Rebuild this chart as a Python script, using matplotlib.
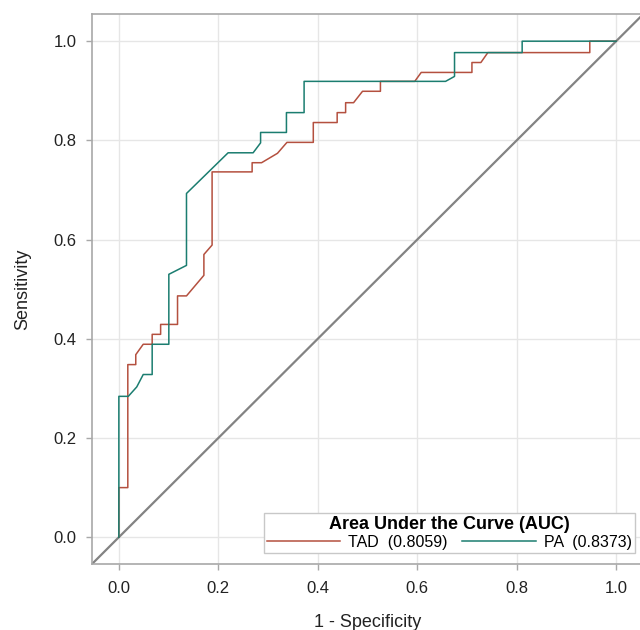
import numpy as np
import matplotlib
matplotlib.use('Agg')
import matplotlib.pyplot as plt
from matplotlib.lines import Line2D

# ROC curve points
tad_fpr = [0, 0, 0.018, 0.018, 0.034, 0.034, 0.049, 0.067, 0.067, 0.084, 0.084,
           0.118, 0.118, 0.136, 0.171, 0.171, 0.1875, 0.1875, 0.268, 0.268, 0.287,
           0.319, 0.338, 0.391, 0.391, 0.439, 0.439, 0.456, 0.456, 0.472, 0.490,
           0.526, 0.526, 0.595, 0.608, 0.710, 0.710, 0.728, 0.742, 0.947, 0.947, 1.0]
tad_tpr = [0, 0.1, 0.1, 0.348, 0.348, 0.368, 0.389, 0.389, 0.409, 0.409, 0.429,
           0.429, 0.4865, 0.4865, 0.528, 0.570, 0.589, 0.7365, 0.7365, 0.755, 0.755,
           0.774, 0.796, 0.796, 0.836, 0.836, 0.856, 0.856, 0.876, 0.876, 0.899,
           0.899, 0.919, 0.919, 0.937, 0.937, 0.957, 0.957, 0.977, 0.977, 1.0, 1.0]

pa_fpr = [0, 0, 0.019, 0.036, 0.049, 0.067, 0.067, 0.1005, 0.1005, 0.136, 0.136,
          0.2197, 0.270, 0.285, 0.285, 0.337, 0.337, 0.3725, 0.3725, 0.657, 0.675,
          0.675, 0.811, 0.811, 1.0]
pa_tpr = [0, 0.284, 0.284, 0.303, 0.328, 0.328, 0.389, 0.389, 0.530, 0.548, 0.693,
          0.775, 0.775, 0.795, 0.816, 0.816, 0.856, 0.856, 0.919, 0.919, 0.929,
          0.977, 0.977, 1.0, 1.0]

auc_labels = ['TAD  (0.8059)', 'PA  (0.8373)']
ticks = [0.0, 0.2, 0.4, 0.6, 0.8, 1.0]

red = '#B4503F'
teal = '#1B7D70'

plt.rcParams['font.family'] = ['Liberation Sans', 'DejaVu Sans']

fig = plt.figure(figsize=(6.4, 6.3), dpi=100)
ax = fig.add_axes([92 / 640, 1 - 564 / 630, 551 / 640, 549.6 / 630])

lo, hi = -0.054, 1.054
ax.plot([lo, hi], [lo, hi], color='#838383', lw=1.6, zorder=2)
ax.plot(tad_fpr, tad_tpr, color=red, lw=1.1, zorder=3)
ax.plot(pa_fpr, pa_tpr, color=teal, lw=1.1, zorder=4)

ax.set_xlim(lo, hi)
ax.set_ylim(lo, hi)
ax.set_xticks(ticks)
ax.set_yticks(ticks)
ax.set_xticklabels([f'{t:.1f}' for t in ticks])
ax.set_yticklabels([f'{t:.1f}' for t in ticks])
ax.grid(True, color='#e6e6e6', lw=1)
ax.set_axisbelow(True)
for s in ax.spines.values():
    s.set_color('#a8a8a8')
    s.set_linewidth(1.2)
ax.spines['right'].set_visible(False)
ax.tick_params(axis='both', colors='#a8a8a8', labelcolor='#222222',
               labelsize=12, length=4, width=1)
ax.tick_params(axis='x', pad=8)
ax.tick_params(axis='y', pad=7)

ax.set_xlabel('1 - Specificity', fontsize=13, color='#222222', labelpad=13)
ax.set_ylabel('Sensitivity', fontsize=13, color='#222222', labelpad=16)

handles = [Line2D([], [], color=red, lw=1.1), Line2D([], [], color=teal, lw=1.1)]
leg = ax.legend(handles, auc_labels, title='Area Under the Curve (AUC)', ncol=2,
                loc='lower right', bbox_to_anchor=(0.985, 0.02), borderaxespad=0,
                fontsize=11.5, handlelength=4.6, handletextpad=0.5,
                columnspacing=0.9, borderpad=0.2, labelspacing=0.1,
                fancybox=False, framealpha=1, edgecolor='#c8c8c8')
leg.get_title().set_fontweight('bold')
leg.get_title().set_fontsize(13)
leg.get_frame().set_linewidth(1)

fig.savefig('out.png', dpi=100)
